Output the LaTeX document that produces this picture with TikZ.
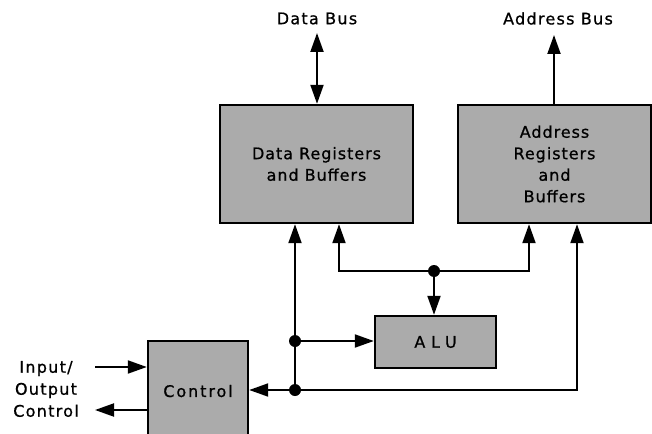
\documentclass[tikz,border=0pt]{standalone}
\usepackage{fontspec}
\setmainfont{DejaVu Sans}[FakeBold=0.8]
\usetikzlibrary{arrows.meta}
\tikzset{
  blk/.style={draw=black, line width=2.4pt, fill=gray!66, inner sep=0pt, align=center,
    font=\fontsize{16}{21.5}\selectfont\addfontfeatures{LetterSpace=6}},
  lbl/.style={inner sep=0pt, align=center, font=\fontsize{16}{22}\selectfont\addfontfeatures{LetterSpace=8}},
  wire/.style={line width=2pt},
  tip/.tip={Triangle[length=19pt,width=13pt]},
  dot/.style={circle, fill=black, inner sep=0pt, minimum size=12pt},
}
\begin{document}
\begin{tikzpicture}[x=1pt,y=-1pt]
\clip (0,0) rectangle (652,433);
\fill[white] (0,0) rectangle (652,433);
% blocks
\node[blk, minimum width=193pt, minimum height=118pt] (dreg) at (316.5,164) {Data Registers\\and Buffers};
\node[blk, minimum width=193pt, minimum height=118pt] (areg) at (554.5,164) {Address\\Registers\\and\\Buffers};
\node[blk, minimum width=121pt, minimum height=52pt] (alu) at (435.5,342) {\addfontfeatures{LetterSpace=36}ALU};
\node[blk, minimum width=100pt, minimum height=100pt] (ctrl) at (198,391) {\addfontfeatures{LetterSpace=12}Control};
% labels
\node[lbl] (dbus) at (317,18.5) {Data Bus};
\node[lbl] (abus) at (558,18.5) {Address Bus};
\node[lbl] (io) at (46,389) {Input/\\Output\\Control};
% coordinates
\coordinate (dbt) at (317,33);
\coordinate (abt) at (554,35);
\coordinate (j1) at (434,271);
\coordinate (j2) at (295,341);
\coordinate (j3) at (295,390);
\coordinate (c1) at (339,271);
\coordinate (c2) at (529,271);
\coordinate (c3) at (577,390);
\coordinate (iin) at (95,367);
\coordinate (iout) at (95,410);
% connectors
\draw[wire, tip-tip] (dbt) -- (dbt |- dreg.north);
\draw[wire, -tip] (abt |- areg.north) -- (abt);
\draw[wire, -tip] (j3) -- (j2) -- (j2 |- dreg.south);
\draw[wire, -tip] (j1) -- (c1) -- (c1 |- dreg.south);
\draw[wire, -tip] (j1) -- (c2) -- (c2 |- areg.south);
\draw[wire, -tip] (j1) -- (j1 |- alu.north);
\draw[wire, -tip] (j2) -- (j2 -| alu.west);
\draw[wire, -tip] (j3) -- (c3) -- (c3 |- areg.south);
\draw[wire, -tip] (j3) -- (j3 -| ctrl.east);
\draw[wire, -tip] (iin) -- (iin -| ctrl.west);
\draw[wire, -tip] (iout -| ctrl.west) -- (iout);
% junction dots
\node[dot] at (j1) {};
\node[dot] at (j2) {};
\node[dot] at (j3) {};
\end{tikzpicture}
\end{document}
